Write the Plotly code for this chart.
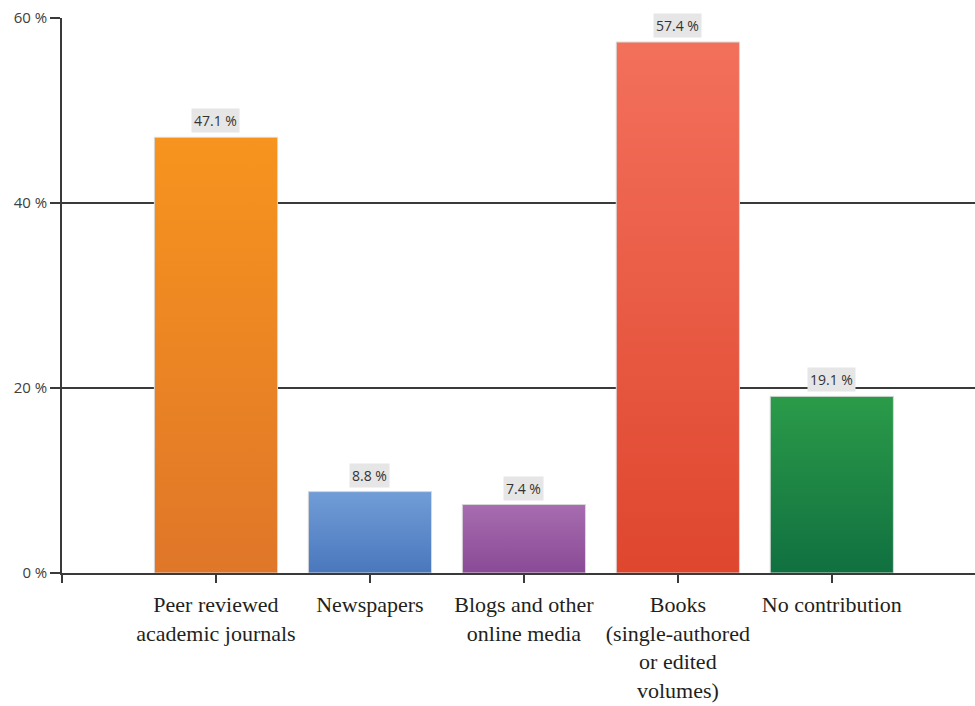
import plotly.graph_objects as go

categories = ["Peer reviewed<br>academic journals", "Newspapers", "Blogs and other<br>online media",
              "Books<br>(single-authored<br>or edited<br>volumes)", "No contribution"]
values = [47.1, 8.8, 7.4, 57.4, 19.1]
top_colors = ["#F7941E", "#719DD7", "#A76CB0", "#F3705B", "#2B9B49"]
bottom_colors = ["#DF7629", "#4A77BD", "#8A4A96", "#DF462E", "#107040"]
y_ticks = [0, 20, 40, 60]
y_tick_labels = ["0 %", "20 %", "40 %", "60 %"]

bar_width = 0.8
fig = go.Figure()
for i, (v, tc, bc) in enumerate(zip(values, top_colors, bottom_colors)):
    x0, x1 = i - bar_width / 2, i + bar_width / 2
    fig.add_trace(go.Scatter(
        x=[x0, x0, x1, x1, x0], y=[0, v, v, 0, 0],
        mode="lines", fill="toself",
        line=dict(color="#D8D8D8", width=1),
        fillgradient=dict(type="vertical", colorscale=[[0, bc], [1, tc]]),
        hoverinfo="skip", showlegend=False))
    fig.add_annotation(x=i, y=v, text=f"{v:.1f} %", showarrow=False,
                       yanchor="bottom", yshift=4, bgcolor="#E6E6E6", borderpad=2,
                       font=dict(family="Open Sans, Noto Sans, sans-serif", size=14, color="#333333"))

fig.update_layout(
    width=975, height=706,
    margin=dict(l=62, r=0, t=18, b=133),
    plot_bgcolor="white", paper_bgcolor="white",
    xaxis=dict(range=[-1.0, 4.93], tickvals=[-1] + list(range(len(categories))),
               ticktext=[""] + categories, showgrid=False, zeroline=False,
               showline=True, linecolor="#3A3A3A", linewidth=1.5,
               ticks="outside", ticklen=8, tickcolor="#3A3A3A", tickwidth=1.5,
               ticklabelstandoff=3, automargin=False,
               tickfont=dict(family="Liberation Serif, DejaVu Serif, serif", size=22, color="#231F20")),
    yaxis=dict(range=[0, 60], tickvals=y_ticks, ticktext=y_tick_labels, showgrid=True,
               gridcolor="#3A3A3A", gridwidth=1.5, zeroline=False,
               showline=True, linecolor="#3A3A3A", linewidth=1.5,
               ticks="outside", ticklen=10, tickcolor="#3A3A3A", tickwidth=1.5,
               automargin=False,
               tickfont=dict(family="Open Sans, Noto Sans, sans-serif", size=15, color="#404040")),
)
fig.write_html("out.html", config={"displayModeBar": False},
               post_script="document.body.style.margin='0';document.body.style.overflow='hidden';")
